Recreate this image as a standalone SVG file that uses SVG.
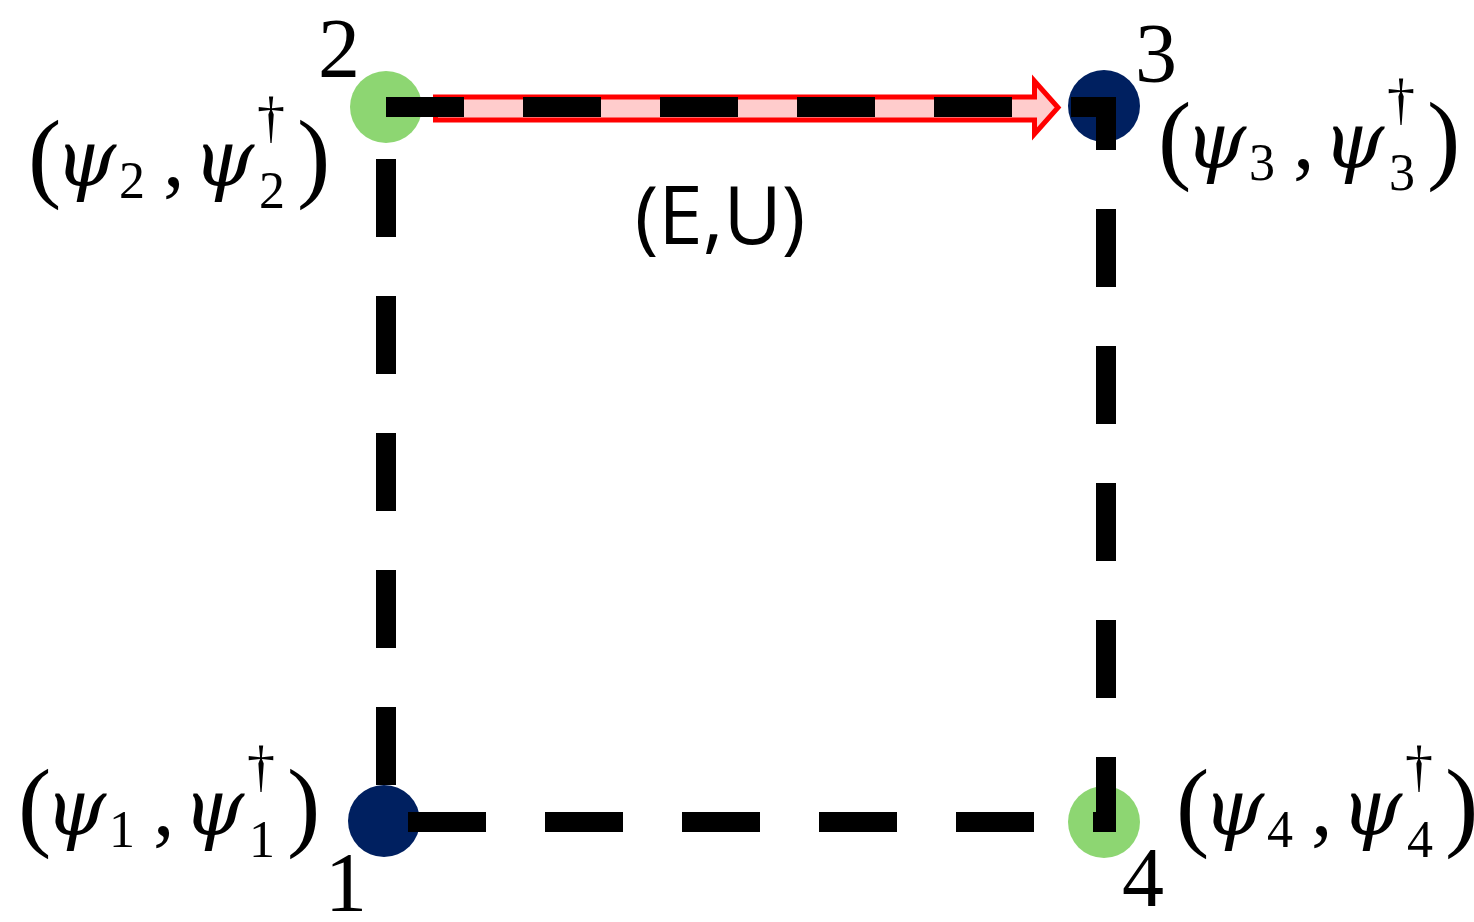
<svg xmlns="http://www.w3.org/2000/svg" width="1474" height="922" viewBox="0 0 1474 922">
  <style>
    .site-a { fill: #8dd672; }
    .site-b { fill: #002060; }
    .num { font-family: "Liberation Serif", "Times New Roman", serif; font-size: 84px; fill: #000; text-anchor: middle; }
    .pair { font-family: "Liberation Serif", "Times New Roman", serif; font-size: 86px; fill: #000; }
    .paren { font-size: 100px; }
    .psi { font-family: "DejaVu Serif", serif; font-style: italic; font-size: 78px; }
    .idx { font-size: 52px; }
    .dag { font-size: 56px; }
    .bond { fill: none; stroke: #000; stroke-width: 20; stroke-dasharray: 78 59; stroke-linejoin: miter; stroke-linecap: butt; }
    .hop { fill: #ffcccc; stroke: #ff0000; stroke-width: 5; stroke-linejoin: miter; }
    .edge-label { font-family: "Open Sans", "Noto Sans", sans-serif; font-size: 80px; fill: #000; text-anchor: middle; }
  </style>

  <!-- site 1 (bottom left) -->
  <g id="node-1">
    <circle class="site-b" cx="384" cy="821" r="36"/>
    <text class="num" x="346" y="911">1</text>
    <text class="pair" transform="translate(23,835)"><tspan class="paren" x="-5" y="3">(</tspan><tspan class="psi" x="22" y="0">ψ</tspan><tspan class="idx" x="86" y="12">1</tspan><tspan x="130" y="0">,</tspan><tspan class="psi" x="160" y="0">ψ</tspan><tspan class="dag" x="224" y="-50">†</tspan><tspan class="idx" x="226" y="22">1</tspan><tspan class="paren" x="264" y="3">)</tspan></text>
  </g>

  <!-- site 2 (top left) -->
  <g id="node-2">
    <circle class="site-a" cx="386" cy="107" r="36"/>
    <text class="num" x="339" y="77">2</text>
    <text class="pair" transform="translate(33,186)"><tspan class="paren" x="-5" y="3">(</tspan><tspan class="psi" x="22" y="0">ψ</tspan><tspan class="idx" x="86" y="12">2</tspan><tspan x="130" y="0">,</tspan><tspan class="psi" x="160" y="0">ψ</tspan><tspan class="dag" x="224" y="-50">†</tspan><tspan class="idx" x="226" y="22">2</tspan><tspan class="paren" x="264" y="3">)</tspan></text>
  </g>

  <!-- site 3 (top right) -->
  <g id="node-3">
    <circle class="site-b" cx="1104" cy="106" r="36"/>
    <text class="num" x="1156" y="82">3</text>
    <text class="pair" transform="translate(1163,168)"><tspan class="paren" x="-5" y="3">(</tspan><tspan class="psi" x="22" y="0">ψ</tspan><tspan class="idx" x="86" y="12">3</tspan><tspan x="130" y="0">,</tspan><tspan class="psi" x="160" y="0">ψ</tspan><tspan class="dag" x="224" y="-50">†</tspan><tspan class="idx" x="226" y="22">3</tspan><tspan class="paren" x="264" y="3">)</tspan></text>
  </g>

  <!-- site 4 (bottom right) -->
  <g id="node-4">
    <circle class="site-a" cx="1104" cy="822" r="36"/>
    <text class="num" x="1143" y="906">4</text>
    <text class="pair" transform="translate(1181,835)"><tspan class="paren" x="-5" y="3">(</tspan><tspan class="psi" x="22" y="0">ψ</tspan><tspan class="idx" x="86" y="12">4</tspan><tspan x="130" y="0">,</tspan><tspan class="psi" x="160" y="0">ψ</tspan><tspan class="dag" x="224" y="-50">†</tspan><tspan class="idx" x="226" y="22">4</tspan><tspan class="paren" x="264" y="3">)</tspan></text>
  </g>

  <!-- bonds and the hopping arrow -->
  <g id="connectors">
    <polygon class="hop" points="435.5,97 1034.5,97 1034.5,81 1058,107.5 1034.5,134 1034.5,120 435.5,120"/>
    <path class="bond" d="M386 107 H1106 V822 H386 V107"/>
    <text class="edge-label" x="720" y="244">(E,U)</text>
  </g>
</svg>
